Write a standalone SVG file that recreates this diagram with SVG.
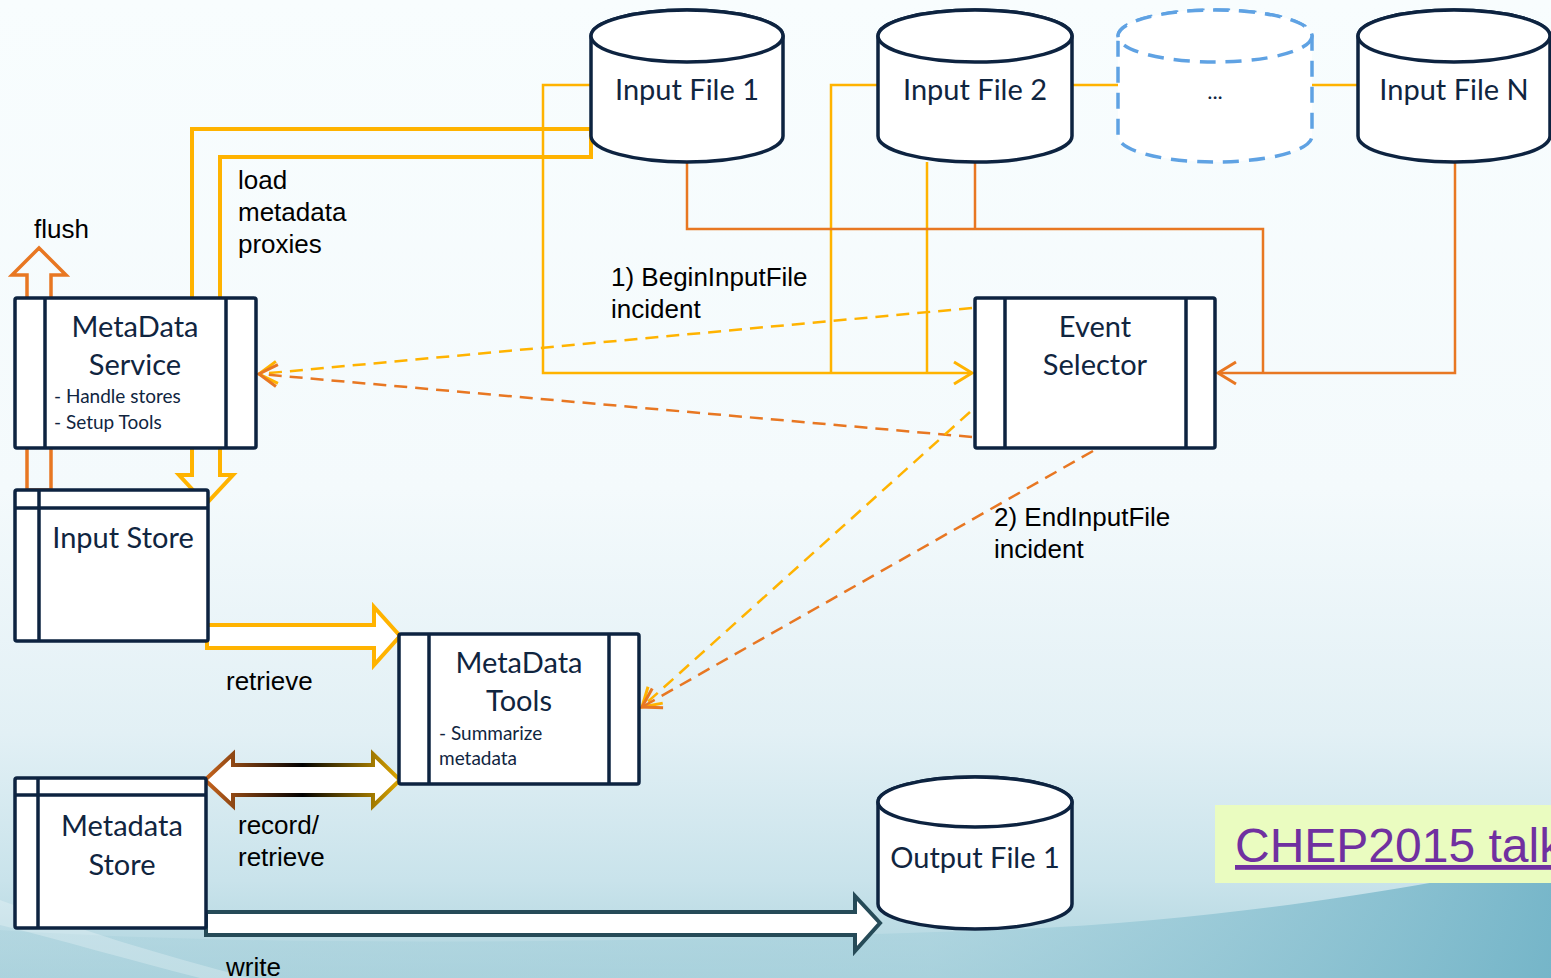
<svg xmlns="http://www.w3.org/2000/svg" width="1551" height="978" viewBox="0 0 1551 978">
<defs>
<linearGradient id="bg" x1="0" y1="0" x2="0" y2="1">
<stop offset="0" stop-color="#f8fdfe"/>
<stop offset="0.5" stop-color="#f4fafc"/>
<stop offset="0.75" stop-color="#e2f0f5"/>
<stop offset="0.9" stop-color="#c9e3eb"/>
<stop offset="1" stop-color="#aed4de"/>
</linearGradient>
<linearGradient id="wave" x1="0" y1="0" x2="1" y2="0">
<stop offset="0" stop-color="#a9d1dc" stop-opacity="0.45"/>
<stop offset="0.6" stop-color="#a3cfdb" stop-opacity="0.55"/>
<stop offset="1" stop-color="#6fb2c6" stop-opacity="0.9"/>
</linearGradient>
<linearGradient id="rr" gradientUnits="userSpaceOnUse" x1="205" y1="0" x2="400" y2="0">
<stop offset="0" stop-color="#c8641c"/>
<stop offset="0.5" stop-color="#000000"/>
<stop offset="1" stop-color="#e0a800"/>
</linearGradient>
<marker id="chevY" markerUnits="userSpaceOnUse" markerWidth="30" markerHeight="30" viewBox="-22 -15 30 30" refX="0" refY="0" orient="auto">
<path d="M-18 -11 L0 0 L-18 11" fill="none" stroke="#ffb300" stroke-width="3"/>
</marker>
<marker id="chevO" markerUnits="userSpaceOnUse" markerWidth="30" markerHeight="30" viewBox="-22 -15 30 30" refX="0" refY="0" orient="auto">
<path d="M-18 -11 L0 0 L-18 11" fill="none" stroke="#e87722" stroke-width="3"/>
</marker>
<style>
.node rect, .node path.b, .node ellipse { fill:#ffffff; stroke:#0d2340; stroke-width:3.5; }
.node line { stroke:#0d2340; stroke-width:3.5; }
.dash path.b, .dash ellipse { fill:#ffffff; stroke:#5fa2e3; stroke-width:3.5; stroke-dasharray:16 10; }
.nt { font-family:Lato, "Open Sans", sans-serif; fill:#10253f; text-anchor:middle; font-size:29px; }
.st { font-family:Lato, "Open Sans", sans-serif; fill:#10253f; font-size:19px; }
.lb { font-family:"Liberation Sans", Arial, sans-serif; fill:#000000; font-size:26px; }
.y { fill:none; stroke:#ffb300; stroke-width:2.5; }
.o { fill:none; stroke:#e87722; stroke-width:2.5; }
.yd { fill:none; stroke:#ffb300; stroke-width:2.5; stroke-dasharray:13 8; }
.od { fill:none; stroke:#e87722; stroke-width:2.5; stroke-dasharray:13 8; }
</style>
</defs>
<rect x="0" y="0" width="1551" height="978" fill="url(#bg)"/>
<path d="M0 978 L0 930 C 300 950, 700 940, 1000 930 C 1250 920, 1450 880, 1551 860 L1551 978 Z" fill="url(#wave)"/>
<path d="M0 900 C 80 930, 160 955, 250 978 L 200 978 C 130 960, 60 940, 0 925 Z" fill="#ffffff" fill-opacity="0.25"/>

<g id="connectors">
<path class="y" d="M591 85 H543 V373 H972" marker-end="url(#chevY)"/>
<path class="y" d="M878 85 H831 V373"/>
<path class="y" d="M927 162 V373"/>
<path class="y" d="M1072 85 H1118"/>
<path class="y" d="M1312 85 H1358"/>
<path class="o" d="M687 162 V229 H1263 V373"/>
<path class="o" d="M975 162 V229"/>
<path class="o" d="M1455 162 V373 H1218" marker-end="url(#chevO)"/>
<path class="yd" d="M972 308 L259 374" marker-end="url(#chevY)"/>
<path class="od" d="M972 437 L259 374" marker-end="url(#chevO)"/>
<path class="yd" d="M970 412 L642 707" marker-end="url(#chevY)"/>
<path class="od" d="M1093 451 L642 707" marker-end="url(#chevO)"/>
<polygon points="27,490 27,275 12,275 39,248 66,275 51,275 51,490" fill="none" stroke="#e87722" stroke-width="3.5"/>
<polygon points="591,129 192,129 192,475 179,475 206,504 233,475 220,475 220,157 591,157" fill="none" stroke="#ffb300" stroke-width="4"/>
<polygon points="207,625 374,625 374,607 400,636 374,665 374,648 207,648" fill="#ffffff" stroke="#ffb300" stroke-width="4"/>
<polygon points="205,780 233,754 233,765 373,765 373,754 400,780 373,806 373,795 233,795 233,806" fill="#ffffff" stroke="url(#rr)" stroke-width="4"/>
<polygon points="206,912 855,912 855,896 880,923 855,951 855,935 206,935" fill="#ffffff" stroke="#264b58" stroke-width="4"/>
</g>

<g id="input-file-1" class="node">
<path class="b" d="M591 36 A96 26 0 0 1 783 36 V136 A96 26 0 0 1 591 136 Z"/>
<ellipse cx="687" cy="36" rx="96" ry="26"/>
<text class="nt" x="687" y="100">Input File 1</text>
</g>
<g id="input-file-2" class="node">
<path class="b" d="M878 36 A97 26 0 0 1 1072 36 V136 A97 26 0 0 1 878 136 Z"/>
<ellipse cx="975" cy="36" rx="97" ry="26"/>
<text class="nt" x="975" y="100">Input File 2</text>
</g>
<g id="input-file-more" class="dash">
<path class="b" d="M1118 36 A97 26 0 0 1 1312 36 V136 A97 26 0 0 1 1118 136 Z"/>
<ellipse cx="1215" cy="36" rx="97" ry="26"/>
<text class="nt" x="1215" y="99" style="font-size:22px">...</text>
</g>
<g id="input-file-n" class="node">
<path class="b" d="M1358 36 A96 26 0 0 1 1550 36 V136 A96 26 0 0 1 1358 136 Z"/>
<ellipse cx="1454" cy="36" rx="96" ry="26"/>
<text class="nt" x="1454" y="100">Input File N</text>
</g>
<g id="output-file-1" class="node">
<path class="b" d="M878 802 A97 25 0 0 1 1072 802 V904 A97 25 0 0 1 878 904 Z"/>
<ellipse cx="975" cy="802" rx="97" ry="25"/>
<text class="nt" x="975" y="868">Output File 1</text>
</g>

<g id="metadata-service" class="node">
<rect x="15" y="298" width="241" height="150" rx="2"/>
<line x1="45" y1="298" x2="45" y2="448"/>
<line x1="226" y1="298" x2="226" y2="448"/>
<text class="nt" x="135" y="337">MetaData</text>
<text class="nt" x="135" y="375">Service</text>
<text class="st" x="54" y="403">- Handle stores</text>
<text class="st" x="54" y="429">- Setup Tools</text>
</g>
<g id="event-selector" class="node">
<rect x="975" y="298" width="240" height="150" rx="2"/>
<line x1="1005" y1="298" x2="1005" y2="448"/>
<line x1="1186" y1="298" x2="1186" y2="448"/>
<text class="nt" x="1095" y="337">Event</text>
<text class="nt" x="1095" y="375">Selector</text>
</g>
<g id="input-store" class="node">
<rect x="15" y="490" width="193" height="151" rx="2"/>
<line x1="15" y1="508" x2="208" y2="508"/>
<line x1="39" y1="490" x2="39" y2="641"/>
<text class="nt" x="123" y="548">Input Store</text>
</g>
<g id="metadata-tools" class="node">
<rect x="399" y="634" width="240" height="150" rx="2"/>
<line x1="429" y1="634" x2="429" y2="784"/>
<line x1="609" y1="634" x2="609" y2="784"/>
<text class="nt" x="519" y="673">MetaData</text>
<text class="nt" x="519" y="711">Tools</text>
<text class="st" x="439" y="740">- Summarize</text>
<text class="st" x="439" y="765">metadata</text>
</g>
<g id="metadata-store" class="node">
<rect x="15" y="778" width="191" height="150" rx="2"/>
<line x1="15" y1="795" x2="206" y2="795"/>
<line x1="38" y1="778" x2="38" y2="928"/>
<text class="nt" x="122" y="836">Metadata</text>
<text class="nt" x="122" y="875">Store</text>
</g>

<g id="labels">
<text class="lb" x="34" y="238">flush</text>
<text class="lb" x="238" y="189">load</text>
<text class="lb" x="238" y="221">metadata</text>
<text class="lb" x="238" y="253">proxies</text>
<text class="lb" x="611" y="286">1) BeginInputFile</text>
<text class="lb" x="611" y="318">incident</text>
<text class="lb" x="994" y="526">2) EndInputFile</text>
<text class="lb" x="994" y="558">incident</text>
<text class="lb" x="226" y="690">retrieve</text>
<text class="lb" x="238" y="834">record/</text>
<text class="lb" x="238" y="866">retrieve</text>
<text class="lb" x="226" y="976">write</text>
</g>

<g id="chep-link">
<rect x="1215" y="805" width="336" height="78" fill="#eafcc0"/>
<text x="1235" y="862" font-family="Liberation Sans, Arial, sans-serif" font-size="48" fill="#7030a0" text-decoration="underline">CHEP2015 talk</text>
</g>
</svg>
